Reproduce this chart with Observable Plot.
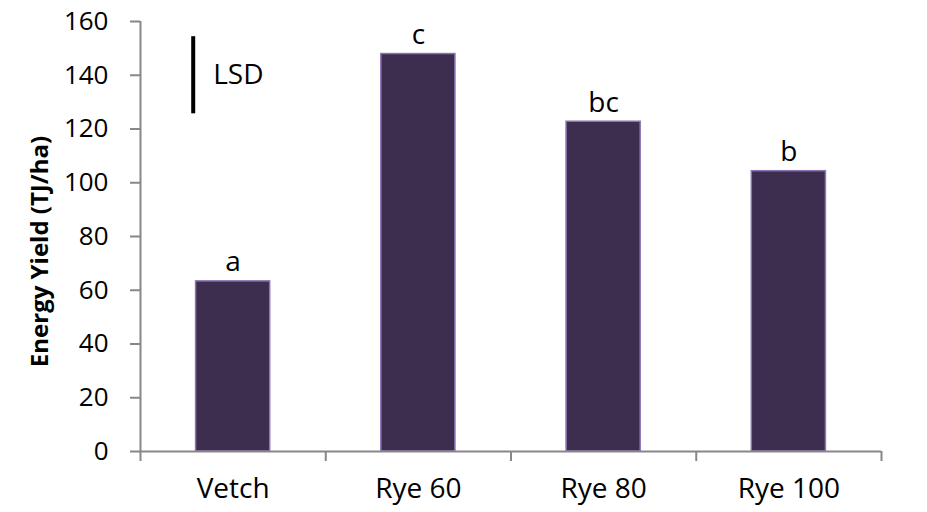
<!DOCTYPE html>
<html>
<head>
<meta charset="utf-8">
<script src="https://cdn.jsdelivr.net/npm/d3@7"></script>
<script src="https://cdn.jsdelivr.net/npm/@observablehq/plot@0.6"></script>
<style>
  html, body { margin: 0; padding: 0; background: #ffffff; }
  #chart svg { display: block; }
</style>
</head>
<body>
<div id="chart"></div>
<script>
// Energy yield per cover-crop treatment, with significance letters
const categories = ["Vetch", "Rye 60", "Rye 80", "Rye 100"];
const energyYield = [63.3, 147.9, 122.7, 104.3];
const groupLetters = ["a", "c", "bc", "b"];
const yTicks = [0, 20, 40, 60, 80, 100, 120, 140, 160];
// Least significant difference, drawn as a vertical bar centred on lsdCenter
const lsd = 28.7;
const lsdCenter = 140;

const rows = categories.map((category, i) => ({
  category,
  slot: i,
  value: energyYield[i],
  letter: groupLetters[i]
}));

const axisGray = "#878787";
const barFill = "#3d2d4f";
const barEdge = "#8c73b3";
const font = "'Open Sans', 'Noto Sans', sans-serif";

const chart = Plot.plot({
  width: 927,
  height: 512,
  marginLeft: 140,
  marginRight: 46,
  marginTop: 21,
  marginBottom: 61,
  style: { fontFamily: font, fontSize: "26px", color: "#000", background: "#fff" },
  x: { type: "linear", domain: [0, categories.length] },
  y: { domain: [0, 160] },
  marks: [
    // bars
    Plot.rect(rows, {
      x1: d => d.slot + 0.3,
      x2: d => d.slot + 0.7,
      y1: 0,
      y2: "value",
      fill: barFill,
      stroke: barEdge,
      strokeWidth: 1.5
    }),
    // axis lines
    Plot.ruleX([0], { stroke: axisGray, strokeWidth: 2 }),
    Plot.ruleY([0], { stroke: axisGray, strokeWidth: 2 }),
    // y axis ticks and labels
    Plot.axisY({
      ticks: yTicks,
      tickSize: 10,
      tickPadding: 22,
      label: null,
      stroke: axisGray,
      strokeWidth: 2,
      fontSize: 26
    }),
    // category boundary ticks
    Plot.axisX({
      ticks: d3.range(categories.length + 1),
      tickSize: 10,
      tickFormat: () => "",
      label: null,
      stroke: axisGray,
      strokeWidth: 2
    }),
    // category labels
    Plot.axisX({
      ticks: rows.map(d => d.slot + 0.5),
      tickFormat: v => categories[Math.floor(v)],
      tickSize: 0,
      tickPadding: 27,
      label: null,
      fontSize: 28
    }),
    // significance letters above each bar
    Plot.text(rows, {
      x: d => d.slot + 0.5,
      y: "value",
      text: "letter",
      lineAnchor: "bottom",
      dy: -10,
      fontSize: 28,
      fill: "#000"
    }),
    // LSD bar and its label
    Plot.ruleX([lsd], {
      x: 0.2845,
      y1: lsdCenter - lsd / 2,
      y2: lsdCenter + lsd / 2,
      stroke: "#000",
      strokeWidth: 4
    }),
    Plot.text(["LSD"], {
      x: 0.2845,
      y: lsdCenter,
      dx: 20,
      textAnchor: "start",
      fontSize: 28,
      fill: "#000"
    }),
    // y axis title
    Plot.text(["Energy Yield (TJ/ha)"], {
      frameAnchor: "left",
      textAnchor: "middle",
      rotate: -90,
      dx: -100,
      dy: 15,
      fontSize: 24,
      fontWeight: "bold",
      fill: "#000"
    })
  ]
});

document.getElementById("chart").appendChild(chart);
</script>
</body>
</html>
